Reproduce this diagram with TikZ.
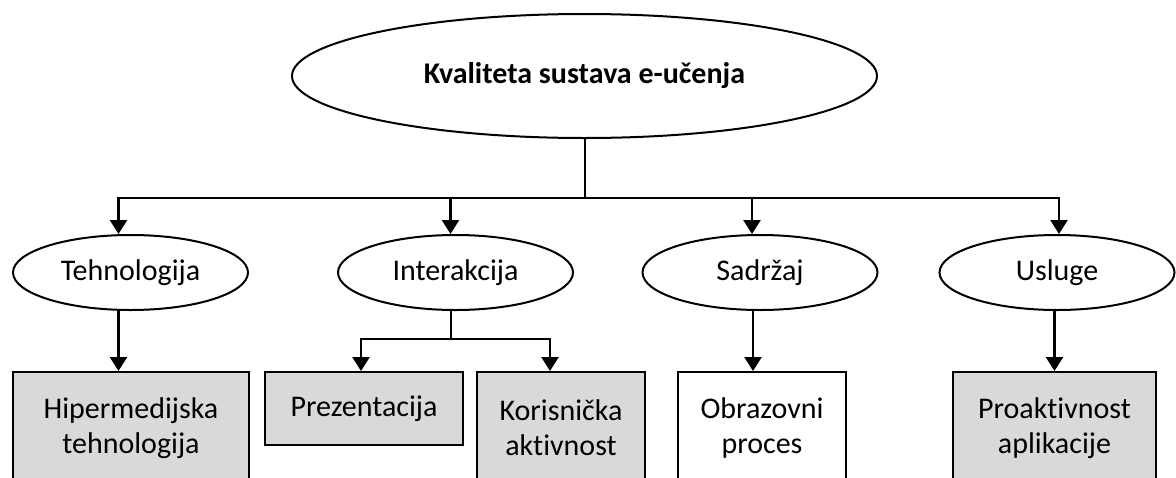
\documentclass[tikz,border=0pt]{standalone}
\usepackage{fontspec}
\setmainfont{Carlito}[Ligatures=CommonOff]
\usepackage{tikz}
\usetikzlibrary{positioning, arrows.meta, shapes.geometric}

\begin{document}
\begin{tikzpicture}[
    x=1pt, y=-1pt,
    % ellipses for the main criteria
    oval/.style={draw, ellipse, line width=2pt, inner sep=0pt,
                 font=\fontsize{30}{35}\selectfont,
                 minimum width=235pt, minimum height=75pt},
    % rectangles for the sub-criteria
    box/.style={draw, rectangle, line width=2pt, inner sep=0pt,
                font=\fontsize{30}{35}\selectfont, align=center, fill=boxC},
    link/.style={line width=2pt},
    arrow/.style={line width=2.5pt, -{Triangle[length=14pt, width=17pt]}}
]

\definecolor{boxC}{RGB}{217,217,217}

\clip (0,0) rectangle (1176,477);

% top node
\node[oval, minimum width=585pt, minimum height=124pt,
      font=\fontsize{30}{35}\selectfont\bfseries] (kval) at (584.5,76)
  {Kvaliteta sustava e-učenja};

% second level
\node[oval] (teh)   at (130.5,272.5) {Tehnologija};
\node[oval] (inter) at (455.5,272.5) {Interakcija};
\node[oval] (sadr)  at (760,272.5)   {Sadržaj};
\node[oval] (usl)   at (1057,272.5)  {Usluge};

% third level
\node[box, minimum width=236pt, minimum height=112pt] (hiper)  at (131,428)   {Hipermedijska\\tehnologija};
\node[box, minimum width=198pt, minimum height=73pt]  (prez)   at (364,408.5) {Prezentacija};
\node[box, minimum width=168pt, minimum height=112pt] (koris)  at (561,428)   {Korisnička\\aktivnost};
\node[box, minimum width=168pt, minimum height=112pt, fill=white] (obraz) at (762,428) {Obrazovni\\proces};
\node[box, minimum width=203pt, minimum height=112pt] (proakt) at (1054.5,428) {Proaktivnost\\aplikacije};

% trunk and bus
\draw[link] (kval.south) -- ++(0,59) coordinate (bus);
\draw[arrow] (bus) -| ([xshift=-12pt]teh.north);
\draw[arrow] (bus) -| ([xshift=-5pt]inter.north);
\draw[arrow] (bus) -| ([xshift=-8pt]sadr.north);
\draw[arrow] (bus) -| ([xshift=2pt]usl.north);

% lower arrows
\draw[arrow] ([xshift=-12pt]teh.south) -- ([xshift=-12pt]teh.south |- hiper.north);
\draw[link] ([xshift=-5pt]inter.south) -- ++(0,28) coordinate (split);
\draw[arrow] (split) -| ([xshift=-3pt]prez.north);
\draw[arrow] (split) -| ([xshift=-11pt]koris.north);
\draw[arrow] ([xshift=-7pt]sadr.south) -- ([xshift=-9pt]obraz.north);
\draw[arrow] (usl.south -| proakt) -- (proakt.north);

\end{tikzpicture}
\end{document}
